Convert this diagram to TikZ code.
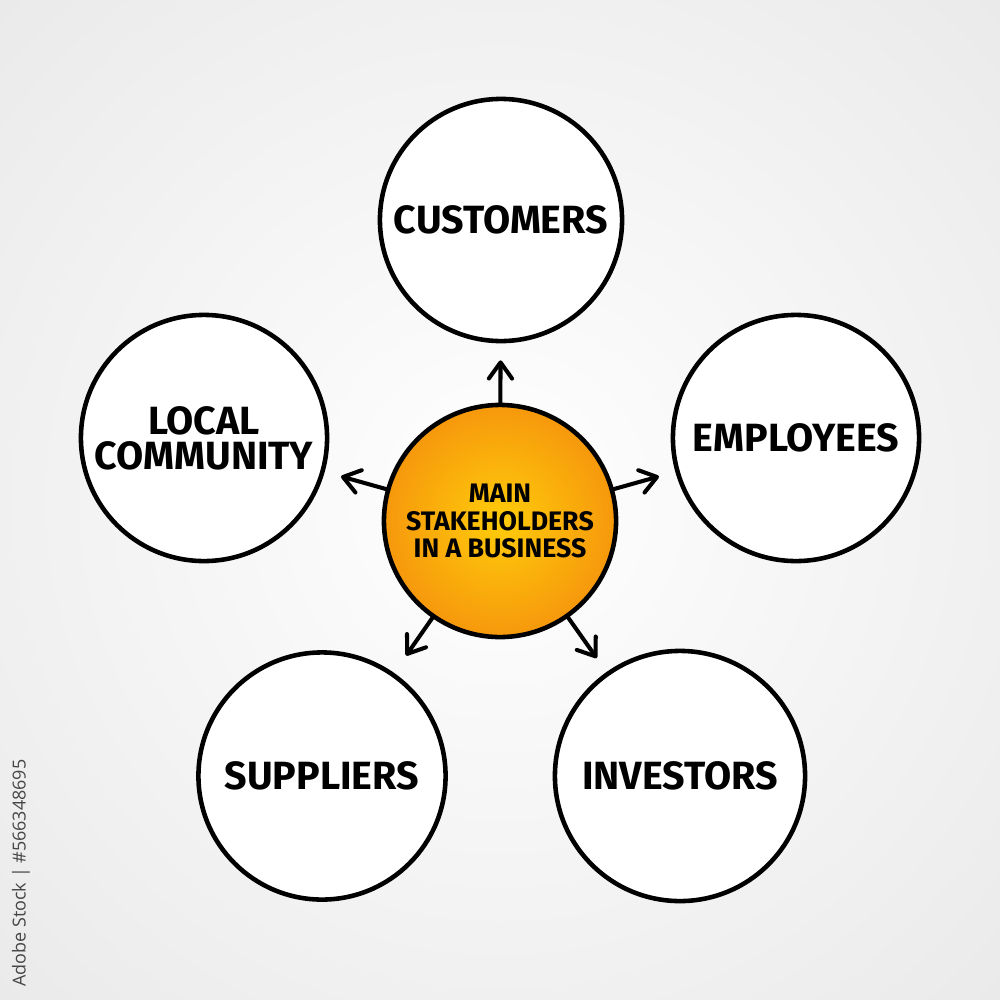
\documentclass[tikz,border=0pt]{standalone}
\usepackage{fontspec}
\setmainfont{Fira Sans}
\newfontfamily\handfont{Fira Sans}
\newfontfamily\idfont{Open Sans}
\usetikzlibrary{arrows.meta}
\definecolor{bgedge}{RGB}{234,234,234}
\definecolor{orin}{RGB}{255,204,10}
\definecolor{orout}{RGB}{246,152,12}
\definecolor{idgray}{RGB}{70,70,70}
\tikzset{
  outer/.style={circle, draw=black, line width=1.3pt, fill=white, minimum size=2.46cm, inner sep=0pt,
    align=center, font=\handfont\bfseries\fontsize{11.2}{10}\selectfont},
  hub/.style={circle, draw=black, line width=1.3pt, inner color=orin, outer color=orout,
    minimum size=2.32cm, inner sep=0pt, align=center, font=\handfont\bfseries\fontsize{7.6}{7.8}\selectfont},
  link/.style={line width=1.15pt, line cap=round, -{Straight Barb[length=4.6pt,width=6.6pt,line cap=round,line join=round]}, shorten >=0.17cm}
}
\begin{document}
\begin{tikzpicture}[x=0.01cm,y=-0.01cm]
\useasboundingbox (0,0) rectangle (1000,1000);
\begin{scope}
\clip (0,0) rectangle (1000,1000);
\shade[inner color=white, outer color=bgedge] (500,500) circle (7.07cm);
\end{scope}
\node[hub] (hub) at (500,521) {MAIN\\STAKEHOLDERS\\IN A BUSINESS};
\node[outer, minimum size=2.42cm] (cust) at (501,220) {CUSTOMERS};
\node[outer] (empl) at (796,438) {EMPLOYEES};
\node[outer] (local) at (204,438) {LOCAL\\COMMUNITY};
\node[outer, minimum size=2.47cm] (supp) at (322,776) {SUPPLIERS};
\node[outer, minimum size=2.5cm] (inv) at (680,776) {INVESTORS};
\draw[link] (hub) -- (cust);
\draw[link] (hub) -- (empl);
\draw[link] (hub) -- (local);
\draw[link, shorten >=0.21cm] (hub) -- (supp);
\draw[link] (hub) -- (inv);
\node[rotate=90, text=idgray, font=\idfont\fontsize{5.1}{6}\selectfont, inner sep=0pt] (stockid) at (21,873) {Adobe Stock | \#566348695};
\end{tikzpicture}
\end{document}
